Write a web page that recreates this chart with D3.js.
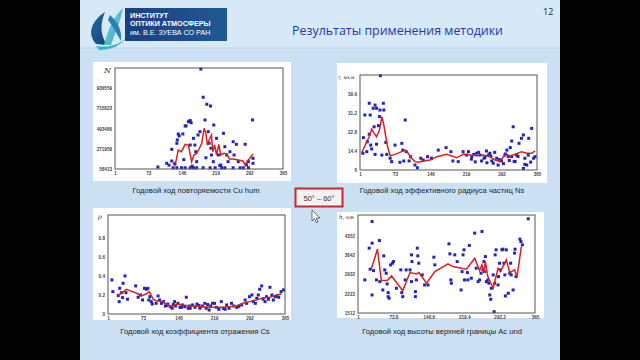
<!DOCTYPE html>
<html><head><meta charset="utf-8">
<script src="https://cdn.jsdelivr.net/npm/d3@7"></script>
<style>html,body{margin:0;padding:0;background:#000;}svg{display:block;}</style>
</head><body>
<svg id="c" width="640" height="360"></svg>
<script>
// ---------- DATA ----------
const dayTicks = [1, 73, 146, 219, 292, 365];
const hDayTicks = [1, 73.8, 146.6, 219.4, 292.2, 365];

// Cu hum repetition, N
const cuTicks = [58413, 271958, 493486, 715823, 936559];
const cuDays = [187,192,200,208,299,196,163,166,153,94,113,124,124,131,135,136,140,138,148,155,160,164,164,171,174,176,181,185,178,203,205,209,210,214,215,221,225,230,236,239,243,246,250,257,264,259,268,283,286,290,300,300,127,135,145,153,164,171,178,192,207,218,232,239,257,272,279,290,118,150,168,198,228];
const cuVals = [1142,836,760,741,590,590,579,560,525,80,120,145,272,112,337,373,416,438,438,525,571,582,318,391,318,246,427,463,138,463,337,283,210,138,535,391,210,102,445,300,210,138,246,354,326,210,138,326,102,138,174,120,72,72,72,72,72,72,72,72,72,72,72,72,72,72,72,72,100,160,90,180,95].map(v=>v*1000);
const cuLineDays = [126,133,138,145,153,160,167,172,178,184,189,194,198,201,205,210,213,217,221,226,230,237,243,249,257,268,278,283,288,293,300];
const cuLineVals = [112,138,264,246,326,318,138,210,228,283,337,500,445,318,373,427,246,318,210,326,210,228,221,167,167,156,145,102,145,174,218].map(v=>v*1000);

// effective radius r, mkm
const rTicks = [6, 14.4, 22.8, 31.2, 39.6];
const rDays = [43,20,11,32,35,28,42,49,50,22,41,94,30,39,8,20,16,23,35,54,25,7,15,32,46,56,73,87,89,63,66,83,91,102,96,105,114,119,126,131,140,148,162,178,188,192,203,213,220,224,231,235,241,248,251,256,261,265,268,272,275,282,285,292,299,303,306,310,313,316,313,320,323,328,333,337,340,344,347,348,354,358,361,337,340,230,238,245,258,262,270,278,288,296,300,308,318,326,352];
const rVals = [47.7,35.5,30.3,34.7,33.3,33.3,32.5,35.5,32.5,30.3,29.6,28.1,25.1,25.6,20.3,21.8,18.5,17,17.4,18.2,15.3,13.4,14.1,12.9,12.6,12.9,17,17.8,14.8,11.2,9.7,9.4,10,10,14.1,11.9,8.2,7,11.2,10.4,11.9,11.2,14.8,15.9,14.1,10,9.7,14.1,12.6,14.1,11.9,12.9,13.4,12.6,10,11.2,14.4,12.6,13.4,10,9,11.2,8.2,10,12.6,14.8,11.9,15.9,18.8,25.1,11.9,9.7,12.6,17.8,20,21.5,11.2,8.2,12.6,20,24.4,11.2,11.9,6.7,8.5,10.8,9.6,13.8,11.5,9.2,12.2,13.8,10.6,8.8,13.1,10.2,9.8,12,9.5];
const rLineDays = [4,15,20,25,30,35,41,46,50,57,63,73,83,94,100,107,114,121,131,145,159,179,200,213,227,241,255,268,279,289,296,303,309,316,323,333,344,354,361];
const rLineVals = [13.4,18.5,20.7,24.1,22.2,20.7,23.7,29.6,25.9,17,12.3,12.9,13.8,14.8,13.4,11.2,9.7,9.4,10,10.4,11.9,12.9,11.4,12.9,12.6,12.3,12.6,11.9,10.4,9.7,11.9,12.9,12.2,12.6,13.2,14.1,13.4,13.4,14.4];

// reflectance rho
const rhoTicks = [0, 0.2, 0.4, 0.6, 0.8];
const rhoDays = [9,11,22,24,25,29,31,32,36,38,41,58,63,68,72,76,80,83,85,87,90,92,100,104,107,111,115,119,124,129,133,138,140,145,149,154,159,162,166,169,175,180,184,190,195,200,203,209,212,216,220,224,229,234,238,245,250,255,260,266,283,286,292,297,300,304,307,310,313,317,320,324,327,331,334,338,341,345,348,352,357,362,122,135,152,170,188,206,242,270,276];
const rhoVals = [0.358,0.235,0.193,0.13,0.27,0.224,0.172,0.323,0.4,0.224,0.155,0.295,0.176,0.2,0.147,0.27,0.26,0.27,0.147,0.182,0.13,0.105,0.112,0.19,0.147,0.112,0.13,0.084,0.105,0.077,0.06,0.13,0.084,0.112,0.07,0.095,0.077,0.176,0.06,0.084,0.095,0.07,0.105,0.06,0.084,0.112,0.06,0.042,0.084,0.112,0.112,0.07,0.049,0.13,0.06,0.095,0.06,0.112,0.084,0.07,0.147,0.112,0.182,0.2,0.13,0.112,0.165,0.2,0.26,0.295,0.155,0.13,0.182,0.155,0.281,0.2,0.147,0.182,0.19,0.176,0.235,0.253,0.09,0.1,0.07,0.06,0.09,0.1,0.05,0.08,0.095];
const rhoLineDays = [22,29,39,46,60,70,79,86,94,100,111,121,132,142,155,169,183,196,210,224,237,251,265,278,292,306,320,334,348,358];
const rhoLineVals = [0.2,0.218,0.26,0.245,0.218,0.19,0.21,0.235,0.155,0.14,0.13,0.105,0.077,0.105,0.095,0.084,0.084,0.077,0.07,0.07,0.07,0.077,0.084,0.112,0.13,0.147,0.172,0.176,0.2,0.21];

// cloud top height h, km
const hTicks = [1512, 2222, 2932, 3642, 4352];
const hDays = [15,24,30,30,26,33,30,45,39,46,52,54,56,59,61,63,63,65,68,72,74,80,89,91,93,98,100,108,111,111,112,121,119,119,123,124,126,133,138,145,157,159,188,190,192,193,200,205,213,215,217,219,220,226,227,230,234,241,244,248,251,254,256,258,260,261,263,265,268,270,272,274,275,279,281,282,283,285,289,290,292,294,297,299,301,303,304,306,310,313,315,316,320,323,324,326,334,336,339,351];
const hVals = [2730,3900,4880,4084,3125,3073,2176,4180,2730,2667,2360,3615,3099,2977,2582,2261,2113,2054,3283,3346,3405,2423,3099,2261,2113,2730,3099,3099,2667,3653,3405,2730,2298,2113,3900,3615,3346,2914,2545,2545,3567,3283,4058,3689,2730,2608,3653,3405,2360,3036,3653,3837,2730,3000,2730,4000,2793,4454,3162,2667,2730,2977,4512,3099,3405,3036,3589,2667,2730,2608,2176,2017,2423,2914,1560,2608,3653,3837,2545,2851,3346,3099,3837,3862,3346,2914,2140,3837,2239,2977,3346,2914,2360,3715,3862,2851,4232,4143,4021,4980];
const hLineDays = [29,41,49,61,70,93,108,121,126,142,159,186,196,224,241,251,256,260,263,268,279,289,294,306,313,323,328,337];
const hLineVals = [3161,3862,2704,2704,2877,2335,3000,2951,3000,2608,3036,3320,3220,3125,3530,3073,3283,3000,3405,2851,2423,3161,3036,3468,3000,3099,2851,3959];

// ---------- DRAW ----------
const svg = d3.select("#c");
const defs = svg.append("defs");
svg.append("rect").attr("x",0).attr("y",0).attr("width",640).attr("height",360).attr("fill","#000");
svg.append("rect").attr("x",80).attr("y",0).attr("width",480).attr("height",360).attr("fill","#cbe0f2");
svg.append("rect").attr("x",80).attr("y",0).attr("width",480).attr("height",48).attr("fill","#d7e8f6");
svg.append("line").attr("x1",80).attr("x2",560).attr("y1",48).attr("y2",48).attr("stroke","#c1d8ec").attr("stroke-width",1);

// logo
const lg = svg.append("g");
const g1 = defs.append("linearGradient").attr("id","lg1").attr("x1",0).attr("y1",0).attr("x2",1).attr("y2",1);
g1.append("stop").attr("offset","0%").attr("stop-color","#1f6fa8");
g1.append("stop").attr("offset","100%").attr("stop-color","#163f7a");
const g2 = defs.append("linearGradient").attr("id","lg2").attr("x1",0).attr("y1",0).attr("x2",1).attr("y2",1);
g2.append("stop").attr("offset","0%").attr("stop-color","#7fd8dc");
g2.append("stop").attr("offset","100%").attr("stop-color","#2aa7b8");
lg.append("path").attr("d","M96,44 C87,34 91,21 105,12 C100,24 100,34 107,45 Z").attr("fill","url(#lg1)");
lg.append("path").attr("d","M104,45 C108,30 113,17 123,8 C121,20 115,33 111,45 Z").attr("fill","url(#lg2)");
lg.append("path").attr("d","M96,46 C108,48 119,45 126,38 C121,45 112,50 99,50 Z").attr("fill","#3bb3c2");
lg.append("path").attr("d","M110,15 C118,22 122,30 121,41 C116,33 113,26 108,20 Z").attr("fill","#2a7fb0");
const bx = defs.append("linearGradient").attr("id","bx").attr("x1",0).attr("y1",0).attr("x2",1).attr("y2",0);
bx.append("stop").attr("offset","0%").attr("stop-color","#1c3f7e");
bx.append("stop").attr("offset","100%").attr("stop-color","#1f5a94");
lg.append("rect").attr("x",125).attr("y",8).attr("width",102).attr("height",33).attr("fill","url(#bx)");
[["ИНСТИТУТ",17.5,"bold"],["ОПТИКИ АТМОСФЕРЫ",26,"bold"],["им. В.Е. ЗУЕВА СО РАН",34.5,"normal"]].forEach(t=>{
  lg.append("text").attr("x",130).attr("y",t[1]).attr("fill","#fff").attr("font-family","Liberation Sans, Arial, sans-serif")
    .attr("font-size",7.2).attr("font-weight",t[2]).text(t[0]);
});

// title & page number
svg.append("text").attr("x",292).attr("y",35).attr("fill","#2338b0").attr("font-family","Open Sans, Liberation Sans, sans-serif")
  .attr("font-size",13.5).attr("textLength",211).attr("lengthAdjust","spacingAndGlyphs").text("Результаты применения методики");
svg.append("text").attr("x",543).attr("y",15).attr("fill","#222").attr("font-family","Open Sans, sans-serif").attr("font-size",9).text("12");

function panel(o){
  const g = svg.append("g");
  g.append("rect").attr("x",o.box[0]).attr("y",o.box[1]).attr("width",o.box[2]-o.box[0]).attr("height",o.box[3]-o.box[1]).attr("fill","#fff");
  const x = d3.scaleLinear().domain([1,365]).range([o.f[0],o.f[2]]);
  const y = d3.scaleLinear().domain(o.yDom).range([o.f[3],o.f[1]]);
  const ax = g.append("g").attr("transform",`translate(0,${o.f[3]})`)
    .call(d3.axisBottom(x).tickValues(o.xTicks).tickSize(0).tickPadding(3).tickFormat(d=>String(d)));
  const ay = g.append("g").attr("transform",`translate(${o.f[0]},0)`)
    .call(d3.axisLeft(y).tickValues(o.yTicks).tickSize(0).tickPadding(3).tickFormat(d=>String(d)));
  [ax,ay].forEach(a=>{a.select(".domain").remove();
    a.selectAll("text").attr("font-family","Liberation Sans, Arial, sans-serif").attr("font-size",4.6).attr("font-weight","bold").attr("fill","#444");});
  g.append("g").selectAll("rect").data(o.px.map((d,i)=>[d,o.py[i]])).join("rect")
    .attr("x",d=>x(d[0])-1.5).attr("y",d=>y(d[1])-1.5).attr("width",3).attr("height",3).attr("fill","#2424b8");
  const line = d3.line().x(d=>x(d[0])).y(d=>y(d[1]));
  g.append("path").datum(o.lx.map((d,i)=>[d,o.ly[i]])).attr("d",line).attr("fill","none").attr("stroke","#d82020").attr("stroke-width",1.5);
  g.append("rect").attr("x",o.f[0]).attr("y",o.f[1]).attr("width",o.f[2]-o.f[0]).attr("height",o.f[3]-o.f[1])
    .attr("fill","none").attr("stroke","#555").attr("stroke-width",1);
  g.append("text").attr("x",o.lab[0]).attr("y",o.lab[1]).attr("font-family","DejaVu Serif, serif").attr("font-style","italic")
    .attr("font-size",o.lab[3]).attr("fill","#333").text(o.lab[2]);
  g.append("text").attr("x",o.cap[0]).attr("y",o.cap[1]).attr("text-anchor","middle").attr("font-family","Liberation Sans, Arial, sans-serif")
    .attr("font-size",7.6).attr("fill","#222").text(o.cap[2]);
}

panel({box:[93,62,291,181], f:[115,68,283,169], yDom:[58413,1153000], xTicks:dayTicks, yTicks:cuTicks,
  px:cuDays, py:cuVals, lx:cuLineDays, ly:cuLineVals, lab:[104,73,"N",8], cap:[196,193,"Годовой ход повторяемости Cu hum"]});
panel({box:[337,63,547,183], f:[360,75,537,170], yDom:[6,48], xTicks:dayTicks, yTicks:rTicks,
  px:rDays, py:rVals, lx:rLineDays, ly:rLineVals, lab:[338,79,"r, мкм",5], cap:[442,193,"Годовой ход эффективного радиуса частиц Ns"]});
panel({box:[93,208,291,320], f:[108,215,285,314], yDom:[0,1.04], xTicks:dayTicks, yTicks:rhoTicks,
  px:rhoDays, py:rhoVals, lx:rhoLineDays, ly:rhoLineVals, lab:[98,219,"ρ",6.5], cap:[195,334,"Годовой ход коэффициента отражения Cs"]});
panel({box:[337,212,544,318], f:[358,215,535,313], yDom:[1512,5120], xTicks:hDayTicks, yTicks:hTicks,
  px:hDays, py:hVals, lx:hLineDays, ly:hLineVals, lab:[339,219,"h, км",5.5], cap:[442,334,"Годовой ход высоты верхней границы Ac und"]});

// latitude badge
svg.append("rect").attr("x",295.5).attr("y",188.5).attr("width",47).attr("height",18).attr("fill","#f3f3f3").attr("stroke","#c8282d").attr("stroke-width",2);
svg.append("text").attr("x",319).attr("y",200.5).attr("text-anchor","middle").attr("font-family","Liberation Sans, Arial, sans-serif")
  .attr("font-size",7.5).attr("fill","#333").text("50° – 60°");

// mouse cursor
svg.append("path").attr("d","M312,210 L312,221 L314.6,218.6 L316.4,222.6 L318,221.9 L316.3,218 L319.8,218 Z")
  .attr("fill","#fff").attr("stroke","#333").attr("stroke-width",0.7);
</script>
</body></html>
